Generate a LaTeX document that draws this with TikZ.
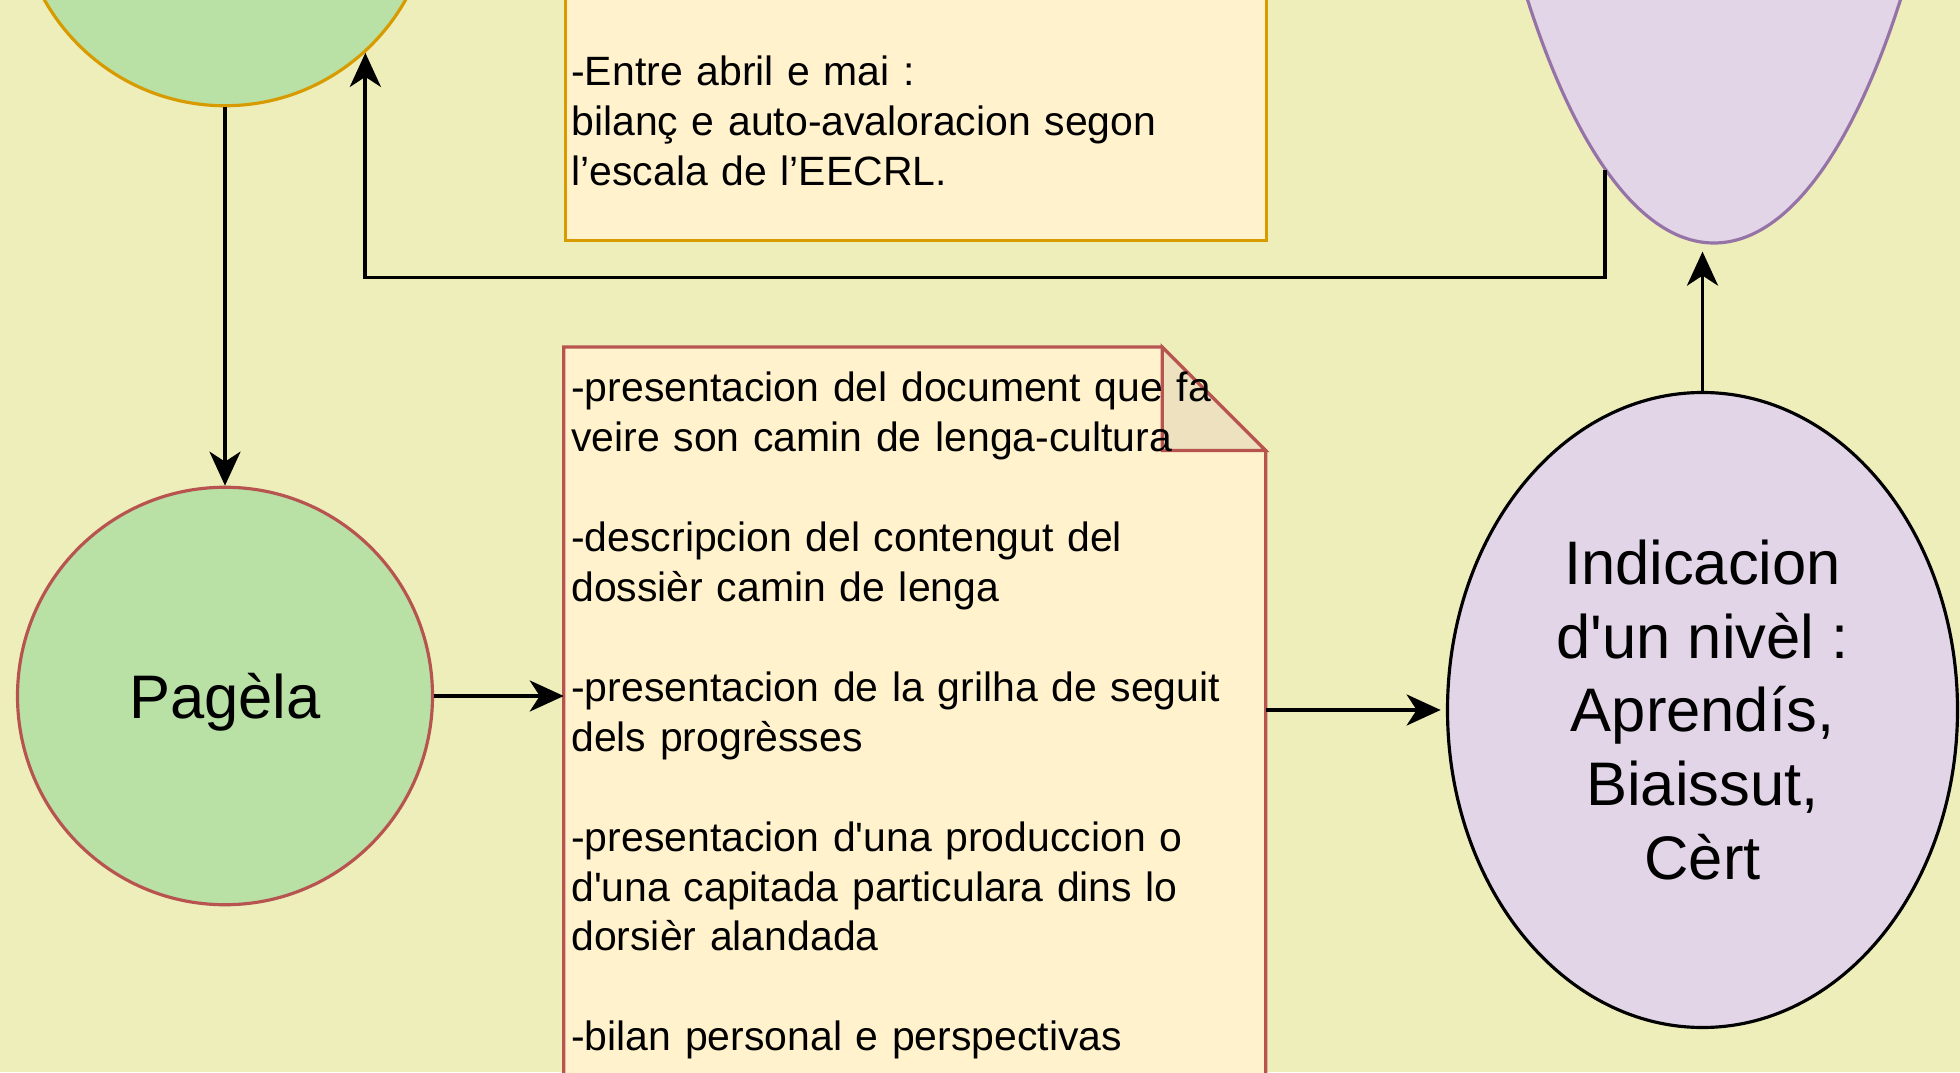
\documentclass[tikz,border=0pt]{standalone}
\usepackage{fontspec}
\setmainfont{Liberation Sans}
\usetikzlibrary{shapes.geometric,arrows.meta}

\definecolor{fons}{RGB}{238,238,186}
\definecolor{greenfill}{HTML}{B9E0A5}
\definecolor{orangeline}{HTML}{D79B00}
\definecolor{redline}{HTML}{B85450}
\definecolor{notefill}{HTML}{FFF2CC}
\definecolor{foldfill}{RGB}{237,225,192}
\definecolor{purplefill}{HTML}{E1D5E7}
\definecolor{purpleline}{HTML}{9673A6}

\newcommand{\bigfont}{\fontsize{35}{42}\selectfont}
\newcommand{\notefont}{\fontsize{23.3}{28.4}\selectfont}
\newcommand{\ap}{\textquotesingle}

\tikzstyle{greenball} = [ellipse, fill=greenfill, line width=1.8pt, inner sep=0pt, minimum width=8.3cm, minimum height=8.35cm]
\tikzstyle{purpleball} = [ellipse, fill=purplefill, line width=1.8pt, inner sep=0pt, minimum width=10.2cm]
\tikzstyle{paperbox} = [fill=notefill, line width=1.8pt]
\tikzstyle{notetext} = [inner sep=0pt, text width=14cm, align=left, font=\notefont]
\tikzstyle{link} = [-{Stealth[length=0.68cm,width=0.62cm,inset=0.2cm]}, line width=2.2pt]

\begin{document}
\begin{tikzpicture}
	\useasboundingbox (0,0) rectangle (39.2,21.44);
	\clip (0,0) rectangle (39.2,21.44);
	\fill[fons] (0,0) rectangle (39.2,21.44);

	\node[greenball, draw=orangeline] (escala) at (4.5,23.5) {};
	\node[greenball, draw=redline, font=\bigfont, text depth=0pt] (pagela) at (4.5,7.52) {Pagèla};
	\node[purpleball, draw=purpleline, minimum width=10.65cm, minimum height=34cm] (avalo) at (34.28,33.58) {};
	\node[purpleball, draw=black, minimum height=12.7cm, align=center, font=\bigfont] (nivel) at (34.05,7.24) {Indicacion\\d\ap un nivèl :\\Aprendís,\\Biaissut,\\Cèrt};

	\node[paperbox, draw=orangeline, anchor=south west, minimum width=14.025cm, minimum height=7cm] (bilan) at (11.275,16.59) {};
	\node[notetext, anchor=base west] (bilantext) at (11.42,19.72) {-Entre abril e mai :\\bilanç e auto-avaloracion segon\\l’escala de l’EECRL.};

	% document with folded corner
	\node[minimum width=14.025cm, minimum height=16cm, anchor=north west, inner sep=0pt] (doc) at (11.275,14.5) {};
	\filldraw[paperbox, draw=redline] (doc.south west) -- (doc.north west) -- ([xshift=-2.07cm]doc.north east) -- ([yshift=-2.07cm]doc.north east) -- (doc.south east) -- cycle;
	\filldraw[fill=foldfill, draw=redline, line width=1.8pt] ([xshift=-2.07cm]doc.north east) -- ([xshift=-2.07cm,yshift=-2.07cm]doc.north east) -- ([yshift=-2.07cm]doc.north east) -- cycle;
	\node[notetext, anchor=base west] (doctext) at (11.42,13.40) {-presentacion del document que fa\\veire son camin de lenga-cultura\\[28.4pt]-descripcion del contengut del\\dossièr camin de lenga\\[28.4pt]-presentacion de la grilha de seguit\\dels progrèsses\\[28.4pt]-presentacion d\ap una produccion o\\d\ap una capitada particulara dins lo\\dorsièr alandada\\[28.4pt]-bilan personal e perspectivas};

	\coordinate (retorn) at (escala.312.3 |- 0,15.89);

	\draw[link] (escala) -- (pagela);
	\draw[link] (pagela) -- (pagela -| doc.west);
	\draw[link, shorten >=3pt] (nivel -| doc.east) -- (nivel);
	\draw[link, shorten >=4pt] (nivel) -- (nivel |- avalo.south);
	\draw[link] (avalo.262.6) |- (retorn) -- (escala.312.3);
\end{tikzpicture}
\end{document}
